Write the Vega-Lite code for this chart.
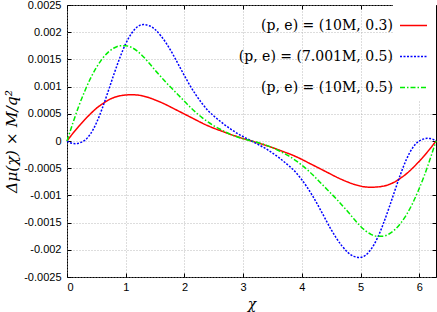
{
"$schema": "https://vega.github.io/schema/vega-lite/v6.json",
"width": 369, "height": 272,
"autosize": {"type": "none"},
"padding": {"left": 67, "top": 5, "right": 1, "bottom": 35},
"background": "white",
"config": {
  "view": {"stroke": "black", "strokeWidth": 1},
  "axis": {"gridColor": "#a8a8a8", "gridDash": [1, 2], "gridWidth": 0.8, "domain": false, "tickColor": "black", "tickSize": -4, "tickWidth": 1, "labelFont": "Liberation Sans", "labelFontSize": 11, "labelColor": "black", "titleFont": "DejaVu Serif", "titleFontStyle": "italic", "titleFontWeight": "normal", "titleFontSize": 15.5, "titleColor": "black"},
  "legend": {"orient": "top-right", "offset": 0, "padding": 6, "fillColor": "white", "symbolType": "stroke", "symbolSize": 729, "symbolStrokeWidth": 1.5, "labelFont": "DejaVu Serif", "labelFontSize": 14, "labelColor": "black", "labelAlign": "right", "labelOffset": -35, "rowPadding": 9, "labelLimit": 0}
},
"data": {"values": [
{"s":"a","x":0,"y":0},{"s":"a","x":0.1,"y":0.00014},{"s":"a","x":0.2,"y":0.00027},{"s":"a","x":0.3,"y":0.00039},{"s":"a","x":0.4,"y":0.0005},{"s":"a","x":0.5,"y":0.0006},{"s":"a","x":0.6,"y":0.00068},{"s":"a","x":0.7,"y":0.00075},{"s":"a","x":0.8,"y":0.0008},{"s":"a","x":0.9,"y":0.00083},{"s":"a","x":1.0,"y":0.000845},{"s":"a","x":1.1,"y":0.00085},{"s":"a","x":1.2,"y":0.000845},{"s":"a","x":1.3,"y":0.000825},{"s":"a","x":1.4,"y":0.000795},{"s":"a","x":1.5,"y":0.000755},{"s":"a","x":1.6,"y":0.00071},{"s":"a","x":1.7,"y":0.00066},{"s":"a","x":1.8,"y":0.000605},{"s":"a","x":1.9,"y":0.00055},{"s":"a","x":2.0,"y":0.000495},{"s":"a","x":2.1,"y":0.00044},{"s":"a","x":2.2,"y":0.000385},{"s":"a","x":2.3,"y":0.00033},{"s":"a","x":2.4,"y":0.00028},{"s":"a","x":2.5,"y":0.000235},{"s":"a","x":2.6,"y":0.000195},{"s":"a","x":2.7,"y":0.000155},{"s":"a","x":2.8,"y":0.000115},{"s":"a","x":2.9,"y":0.00008},{"s":"a","x":3.0,"y":0.000045},{"s":"a","x":3.1416,"y":0},
{"s":"a","x":3.283,"y":-0.000045},{"s":"a","x":3.383,"y":-0.00008},{"s":"a","x":3.483,"y":-0.000115},{"s":"a","x":3.583,"y":-0.000155},{"s":"a","x":3.683,"y":-0.000195},{"s":"a","x":3.783,"y":-0.000235},{"s":"a","x":3.883,"y":-0.00028},{"s":"a","x":3.983,"y":-0.00033},{"s":"a","x":4.083,"y":-0.000385},{"s":"a","x":4.183,"y":-0.00044},{"s":"a","x":4.283,"y":-0.000495},{"s":"a","x":4.383,"y":-0.00055},{"s":"a","x":4.483,"y":-0.000605},{"s":"a","x":4.583,"y":-0.00066},{"s":"a","x":4.683,"y":-0.00071},{"s":"a","x":4.783,"y":-0.000755},{"s":"a","x":4.883,"y":-0.000795},{"s":"a","x":4.983,"y":-0.000825},{"s":"a","x":5.083,"y":-0.000845},{"s":"a","x":5.183,"y":-0.00085},{"s":"a","x":5.283,"y":-0.000845},{"s":"a","x":5.383,"y":-0.00083},{"s":"a","x":5.483,"y":-0.0008},{"s":"a","x":5.583,"y":-0.00075},{"s":"a","x":5.683,"y":-0.00068},{"s":"a","x":5.783,"y":-0.0006},{"s":"a","x":5.883,"y":-0.0005},{"s":"a","x":5.983,"y":-0.00039},{"s":"a","x":6.083,"y":-0.00027},{"s":"a","x":6.183,"y":-0.00014},{"s":"a","x":6.2832,"y":0},
{"s":"b","x":0,"y":0},{"s":"b","x":0.05,"y":-0.00003},{"s":"b","x":0.1,"y":-0.000045},{"s":"b","x":0.15,"y":-0.00005},{"s":"b","x":0.2,"y":-0.00004},{"s":"b","x":0.25,"y":-0.00002},{"s":"b","x":0.3,"y":0.00001},{"s":"b","x":0.4,"y":0.00013},{"s":"b","x":0.5,"y":0.00033},{"s":"b","x":0.6,"y":0.0006},{"s":"b","x":0.7,"y":0.00091},{"s":"b","x":0.8,"y":0.00123},{"s":"b","x":0.9,"y":0.00153},{"s":"b","x":1.0,"y":0.00179},{"s":"b","x":1.1,"y":0.00198},{"s":"b","x":1.2,"y":0.0021},{"s":"b","x":1.3,"y":0.00214},{"s":"b","x":1.4,"y":0.00212},{"s":"b","x":1.5,"y":0.00205},{"s":"b","x":1.6,"y":0.00193},{"s":"b","x":1.7,"y":0.00178},{"s":"b","x":1.8,"y":0.0016},{"s":"b","x":1.9,"y":0.0014},{"s":"b","x":2.0,"y":0.0012},{"s":"b","x":2.1,"y":0.00101},{"s":"b","x":2.2,"y":0.00084},{"s":"b","x":2.3,"y":0.00069},{"s":"b","x":2.4,"y":0.00056},{"s":"b","x":2.5,"y":0.00046},{"s":"b","x":2.6,"y":0.00037},{"s":"b","x":2.7,"y":0.000285},{"s":"b","x":2.8,"y":0.00021},{"s":"b","x":2.9,"y":0.00014},{"s":"b","x":3.0,"y":0.00008},{"s":"b","x":3.1416,"y":0},
{"s":"b","x":3.283,"y":-0.00008},{"s":"b","x":3.383,"y":-0.00014},{"s":"b","x":3.483,"y":-0.00021},{"s":"b","x":3.583,"y":-0.000285},{"s":"b","x":3.683,"y":-0.00037},{"s":"b","x":3.783,"y":-0.00046},{"s":"b","x":3.883,"y":-0.00056},{"s":"b","x":3.983,"y":-0.00069},{"s":"b","x":4.083,"y":-0.00084},{"s":"b","x":4.183,"y":-0.00101},{"s":"b","x":4.283,"y":-0.0012},{"s":"b","x":4.383,"y":-0.0014},{"s":"b","x":4.483,"y":-0.0016},{"s":"b","x":4.583,"y":-0.00178},{"s":"b","x":4.683,"y":-0.00193},{"s":"b","x":4.783,"y":-0.00205},{"s":"b","x":4.883,"y":-0.00212},{"s":"b","x":4.983,"y":-0.00214},{"s":"b","x":5.083,"y":-0.0021},{"s":"b","x":5.183,"y":-0.00198},{"s":"b","x":5.283,"y":-0.00179},{"s":"b","x":5.383,"y":-0.00153},{"s":"b","x":5.483,"y":-0.00123},{"s":"b","x":5.583,"y":-0.00091},{"s":"b","x":5.683,"y":-0.0006},{"s":"b","x":5.783,"y":-0.00033},{"s":"b","x":5.883,"y":-0.00013},{"s":"b","x":5.983,"y":-0.00001},{"s":"b","x":6.033,"y":0.00002},{"s":"b","x":6.083,"y":0.00004},{"s":"b","x":6.133,"y":0.00005},{"s":"b","x":6.183,"y":0.000045},{"s":"b","x":6.233,"y":0.00003},{"s":"b","x":6.2832,"y":0},
{"s":"c","x":0,"y":0},{"s":"c","x":0.1,"y":0.00033},{"s":"c","x":0.2,"y":0.00064},{"s":"c","x":0.3,"y":0.00091},{"s":"c","x":0.4,"y":0.00115},{"s":"c","x":0.5,"y":0.00135},{"s":"c","x":0.6,"y":0.00151},{"s":"c","x":0.7,"y":0.00163},{"s":"c","x":0.8,"y":0.00171},{"s":"c","x":0.9,"y":0.00175},{"s":"c","x":1.0,"y":0.00175},{"s":"c","x":1.1,"y":0.00172},{"s":"c","x":1.2,"y":0.00165},{"s":"c","x":1.3,"y":0.00155},{"s":"c","x":1.4,"y":0.00143},{"s":"c","x":1.5,"y":0.0013},{"s":"c","x":1.6,"y":0.00118},{"s":"c","x":1.7,"y":0.00106},{"s":"c","x":1.8,"y":0.00095},{"s":"c","x":1.9,"y":0.00084},{"s":"c","x":2.0,"y":0.00073},{"s":"c","x":2.1,"y":0.00062},{"s":"c","x":2.2,"y":0.00052},{"s":"c","x":2.3,"y":0.00043},{"s":"c","x":2.4,"y":0.00035},{"s":"c","x":2.5,"y":0.00028},{"s":"c","x":2.6,"y":0.00022},{"s":"c","x":2.7,"y":0.000165},{"s":"c","x":2.8,"y":0.000115},{"s":"c","x":2.9,"y":0.000075},{"s":"c","x":3.0,"y":0.00004},{"s":"c","x":3.1416,"y":0},
{"s":"c","x":3.283,"y":-0.00004},{"s":"c","x":3.383,"y":-0.000075},{"s":"c","x":3.483,"y":-0.000115},{"s":"c","x":3.583,"y":-0.000165},{"s":"c","x":3.683,"y":-0.00022},{"s":"c","x":3.783,"y":-0.00028},{"s":"c","x":3.883,"y":-0.00035},{"s":"c","x":3.983,"y":-0.00043},{"s":"c","x":4.083,"y":-0.00052},{"s":"c","x":4.183,"y":-0.00062},{"s":"c","x":4.283,"y":-0.00073},{"s":"c","x":4.383,"y":-0.00084},{"s":"c","x":4.483,"y":-0.00095},{"s":"c","x":4.583,"y":-0.00106},{"s":"c","x":4.683,"y":-0.00118},{"s":"c","x":4.783,"y":-0.0013},{"s":"c","x":4.883,"y":-0.00143},{"s":"c","x":4.983,"y":-0.00155},{"s":"c","x":5.083,"y":-0.00165},{"s":"c","x":5.183,"y":-0.00172},{"s":"c","x":5.283,"y":-0.00175},{"s":"c","x":5.383,"y":-0.00175},{"s":"c","x":5.483,"y":-0.00171},{"s":"c","x":5.583,"y":-0.00163},{"s":"c","x":5.683,"y":-0.00151},{"s":"c","x":5.783,"y":-0.00135},{"s":"c","x":5.883,"y":-0.00115},{"s":"c","x":5.983,"y":-0.00091},{"s":"c","x":6.083,"y":-0.00064},{"s":"c","x":6.183,"y":-0.00033},{"s":"c","x":6.2832,"y":0}
]},
"layer": [
  {
    "mark": {"type": "line", "strokeWidth": 1.5, "interpolate": "monotone"},
    "encoding": {
      "x": {"field": "x", "type": "quantitative", "scale": {"domain": [0, 6.2832], "nice": false, "zero": false},
            "axis": {"orient": "bottom", "values": [0, 1, 2, 3, 4, 5, 6], "title": "χ", "titleFontSize": 14, "labelPadding": 8, "titlePadding": 5, "grid": true}},
      "y": {"field": "y", "type": "quantitative", "scale": {"domain": [-0.0025, 0.0025], "nice": false},
            "axis": {"orient": "left", "values": [-0.0025, -0.002, -0.0015, -0.001, -0.0005, 0, 0.0005, 0.001, 0.0015, 0.002, 0.0025],
                     "labelExpr": "replace(format(datum.value, '.4~f'), '−', '-')", "title": "Δμ(χ) × M/q²", "labelPadding": 10, "titlePadding": 4, "grid": true}},
      "color": {"field": "s", "type": "nominal", "scale": {"domain": ["a", "b", "c"], "range": ["#ff0000", "#0000ff", "#00ee00"]},
                "legend": {"title": null, "labelExpr": "datum.label == 'a' ? '(p, e) = (10M, 0.3)' : datum.label == 'b' ? '(p, e) = (7.001M, 0.5)' : '(p, e) = (10M, 0.5)'"}},
      "strokeDash": {"field": "s", "type": "nominal", "scale": {"domain": ["a", "b", "c"], "range": [[1, 0], [2, 1.5], [5, 2, 1.5, 2]]},
                "legend": {"title": null, "labelExpr": "datum.label == 'a' ? '(p, e) = (10M, 0.3)' : datum.label == 'b' ? '(p, e) = (7.001M, 0.5)' : '(p, e) = (10M, 0.5)'"}}
    }
  },
  {
    "mark": {"type": "point", "opacity": 0},
    "encoding": {
      "x": {"field": "x", "type": "quantitative", "axis": {"orient": "top", "values": [0, 1, 2, 3, 4, 5, 6], "labels": false, "title": null, "grid": false}},
      "y": {"field": "y", "type": "quantitative", "axis": {"orient": "right", "values": [-0.0025, -0.002, -0.0015, -0.001, -0.0005, 0, 0.0005, 0.001, 0.0015, 0.002, 0.0025], "labels": false, "title": null, "grid": false}}
    }
  }
],
"resolve": {"axis": {"x": "independent", "y": "independent"}}
}
